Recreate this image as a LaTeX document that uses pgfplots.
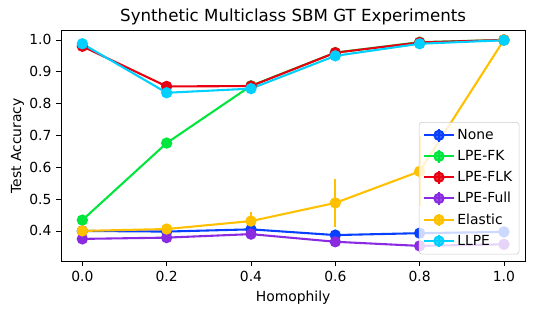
\documentclass[border=0pt]{standalone}
\usepackage{fontspec}
\setmainfont{DejaVu Sans}
\usepackage{pgfplots}
\pgfplotsset{compat=1.18}
\definecolor{cNone}{RGB}{8,64,255}
\definecolor{cFK}{RGB}{0,230,60}
\definecolor{cFLK}{RGB}{232,0,16}
\definecolor{cFull}{RGB}{138,43,226}
\definecolor{cEl}{RGB}{255,192,0}
\definecolor{cLL}{RGB}{0,208,255}
\begin{document}
\begin{tikzpicture}
\begin{axis}[name=ax,
  scale only axis, width=333.9pt, height=165.8pt,
  xmin=-0.05, xmax=1.05, ymin=0.3056, ymax=1.029,
  xtick={0,0.2,0.4,0.6,0.8,1.0}, ytick={0.4,0.5,0.6,0.7,0.8,0.9,1.0},
  xtick pos=left, ytick pos=left, tick align=outside,
  major tick length=3.5pt,
  tick style={black, line width=0.6pt},
  axis line style={line width=0.6pt},
  /pgf/number format/assume math mode=true,
  /pgf/number format/.cd, fixed, fixed zerofill, precision=1, /pgfplots/.cd,
  tick label style={font=\fontsize{10}{12}\selectfont},
  xlabel={Homophily}, ylabel={Test Accuracy},
  label style={font=\fontsize{10}{12}\selectfont},
  ylabel style={yshift=-3pt},
  title={Synthetic Multiclass SBM GT Experiments},
  title style={font=\fontsize{12}{14}\selectfont, yshift=-5.5pt},
  every axis plot/.append style={line width=1.5pt, mark=*, mark size=3.3pt, mark options={solid}},
  error bars/y dir=both, error bars/y explicit,
  error bars/error bar style={line width=1.5pt},
  legend cell align=left,
  legend style={at={(1,0)}, anchor=south east, xshift=-4.1pt, yshift=4.8pt,
    font=\fontsize{10}{12}\selectfont, draw=gray!40, rounded corners=2pt,
    fill=white, fill opacity=0.8, text opacity=1, row sep=2.3pt,
    inner xsep=3pt, inner ysep=3pt},
  legend image code/.code={
    \draw[#1,mark=none] (0pt,0pt) -- (21pt,0pt);
    \draw[#1,mark=none] (10.5pt,-4.5pt) -- (10.5pt,4.5pt);
    \fill[#1] (10.5pt,0pt) circle (3.3pt);
  },
]
\addplot[color=cNone, error bars/error mark=none] table[y error=e] {
x y e
0.0 0.400 0.003
0.2 0.398 0.003
0.4 0.405 0.003
0.6 0.387 0.003
0.8 0.393 0.003
1.0 0.397 0.003
};
\addlegendentry{None}
\addplot[color=cFK, error bars/error mark=none] table[y error=e] {
x y e
0.0 0.434 0.004
0.2 0.676 0.008
0.4 0.856 0.004
0.6 0.960 0.003
0.8 0.993 0.002
1.0 1.000 0.000
};
\addlegendentry{LPE-FK}
\addplot[color=cFLK, error bars/error mark=none] table[y error=e] {
x y e
0.0 0.980 0.003
0.2 0.854 0.004
0.4 0.855 0.004
0.6 0.960 0.003
0.8 0.992 0.002
1.0 1.000 0.000
};
\addlegendentry{LPE-FLK}
\addplot[color=cFull, error bars/error mark=none] table[y error=e] {
x y e
0.0 0.375 0.003
0.2 0.379 0.003
0.4 0.390 0.003
0.6 0.366 0.003
0.8 0.353 0.003
1.0 0.358 0.003
};
\addlegendentry{LPE-Full}
\addplot[color=cEl, error bars/error mark=none] table[y error=e] {
x y e
0.0 0.400 0.004
0.2 0.406 0.004
0.4 0.431 0.030
0.6 0.488 0.075
0.8 0.587 0.110
1.0 1.000 0.000
};
\addlegendentry{Elastic}
\addplot[color=cLL, error bars/error mark=none] table[y error=e] {
x y e
0.0 0.988 0.002
0.2 0.834 0.004
0.4 0.847 0.004
0.6 0.950 0.003
0.8 0.988 0.002
1.0 0.999 0.001
};
\addlegendentry{LLPE}
\end{axis}
\path[use as bounding box] ([shift={(-44.1pt,-38.2pt)}]ax.south west) rectangle ++(385.9pt,226.1pt);
\end{tikzpicture}
\end{document}
